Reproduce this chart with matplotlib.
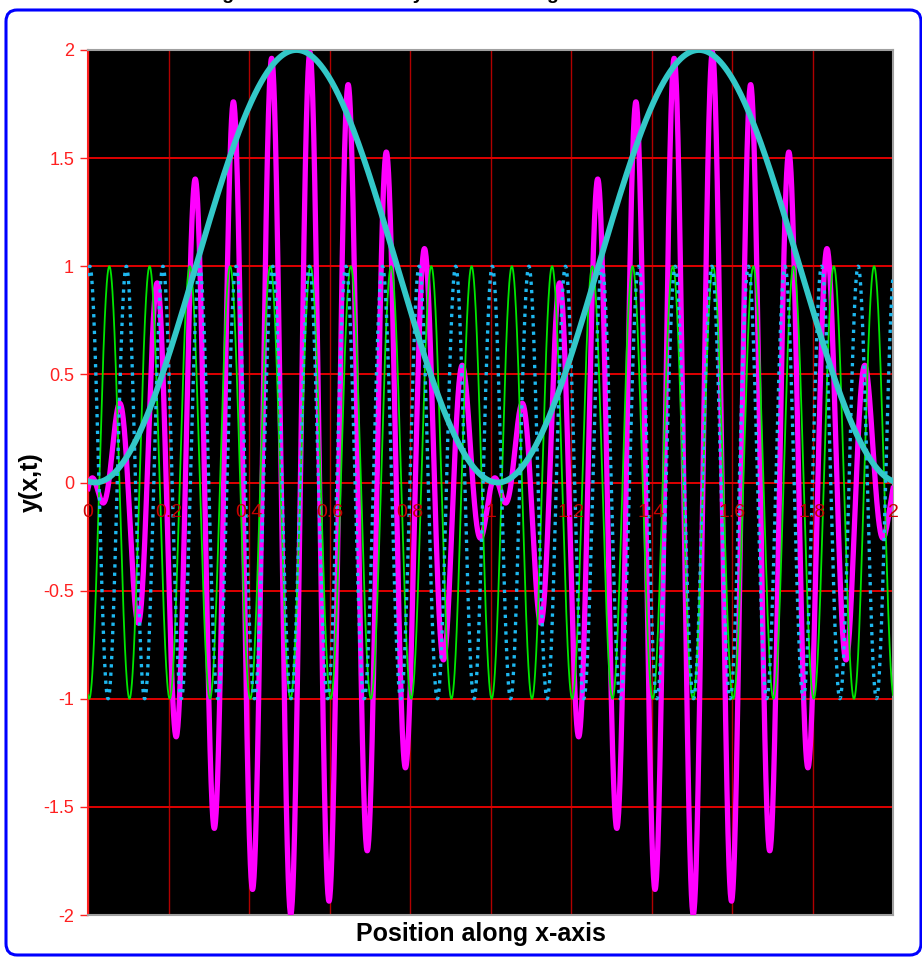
""" Superposition of two waves of slightly different wavelength (beating). """

import numpy as np
import matplotlib.pyplot as plt
from matplotlib.patches import FancyBboxPatch

plt.rcParams['font.family'] = ['Liberation Sans', 'DejaVu Sans']

# Wave parameters: cycles per unit of x and x of one crest
wave_names = ['wave 1', 'wave 2']
wave_cycles = [11, 10]
wave_crest_x = [0.0044, 0.053]
wave_amplitude = [1.0, 1.0]

# Envelope curve (cyan): period and position of its maximum
envelope_period = 1.0
envelope_peak_x = 0.518
envelope_mean = 1.0

x_ticks = [0, 0.2, 0.4, 0.6, 0.8, 1.0, 1.2, 1.4, 1.6, 1.8, 2.0]
x_tick_labels = ['0', '0.2', '0.4', '0.6', '0.8', '1', '1.2', '1.4', '1.6', '1.8', '2']
y_ticks = [-2, -1.5, -1, -0.5, 0, 0.5, 1, 1.5, 2]
y_tick_labels = ['-2', '-1.5', '-1', '-0.5', '0', '0.5', '1', '1.5', '2']

x = np.linspace(0, 2, 2401)
y1 = wave_amplitude[0] * np.cos(2 * np.pi * wave_cycles[0] * (x - wave_crest_x[0]))
y2 = wave_amplitude[1] * np.cos(2 * np.pi * wave_cycles[1] * (x - wave_crest_x[1]))
y_sum = y1 + y2
y_env = envelope_mean + np.cos(2 * np.pi * (x - envelope_peak_x) / envelope_period)

fig = plt.figure(figsize=(9.22, 9.57), dpi=100)
ax = fig.add_axes([88 / 922, 1 - 915 / 957, (893 - 88) / 922, (915 - 50) / 957])
ax.set_facecolor('black')

# Grille rouge
for xv in x_ticks:
    ax.axvline(xv, color='#B00000', lw=1.0, zorder=1)
for yv in y_ticks:
    ax.axhline(yv, color='#E00000', lw=1.4, zorder=1)

ax.plot(x, y_sum, color='#FF00FF', lw=3.8, zorder=3)
ax.plot(x, y2, color='#00E600', lw=1.3, zorder=4)
ax.plot(x, y1, color='#1EB8F0', lw=2.4, ls=(0, (1, 1.5)), zorder=5)
ax.plot(x, y_env, color='#33C8C8', lw=4.2, zorder=6, solid_capstyle='round')

ax.set_xlim(0, 2)
ax.set_ylim(-2, 2)
ax.set_xticks(x_ticks)
ax.set_xticklabels([])
ax.tick_params(axis='x', length=0)
ax.set_yticks(y_ticks)
ax.set_yticklabels(y_tick_labels, color='#FF2020', fontsize=13)
ax.tick_params(axis='y', color='#FF2020', length=6, width=1, pad=4)

# Etiquettes de l'axe x posées sous la ligne y=0
for xv, lab in zip(x_ticks, x_tick_labels):
    ax.text(xv, -0.14, lab, color='#C80000', fontsize=14, ha='center', va='center',
            zorder=7)

for side in ['top', 'right', 'bottom']:
    ax.spines[side].set_color('#A0A0A0')
    ax.spines[side].set_linewidth(1.5)
ax.spines['left'].set_color('#FF2020')
ax.spines['left'].set_linewidth(1.5)

ax.set_xlabel('Position along x-axis', fontsize=18, fontweight='bold')
ax.xaxis.set_label_coords((481 - 88) / 805, -0.008)
ax.xaxis.label.set_va('top')
ax.set_ylabel('y(x,t)', fontsize=18, fontweight='bold')
ax.yaxis.set_label_coords((43 - 88) / 805, 0.5)

# Cadre bleu arrondi autour de la figure
frame = FancyBboxPatch((6 / 922, 2 / 957), (921 - 6) / 922, (947 - 2) / 957,
                       boxstyle='round,pad=0,rounding_size=0.012',
                       transform=fig.transFigure, facecolor='none',
                       edgecolor='#0000FF', lw=2.2)
fig.patches.append(frame)

# Titre coupé en haut de l'image
fig.text(167 / 922, 1.0015, 'Adding two waves of nearly the same length',
         ha='left', va='baseline', fontsize=14, fontweight='bold')

fig.savefig('out.png', dpi=100)
